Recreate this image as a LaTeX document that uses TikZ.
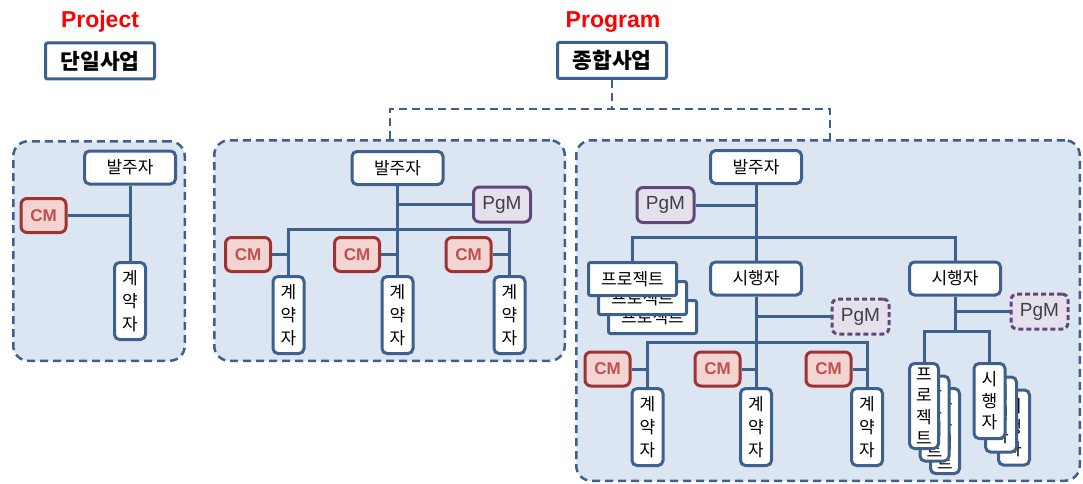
\documentclass[tikz,border=0pt]{standalone}
\usepackage{fontspec}
\setmainfont{Liberation Sans}
\newfontfamily\kr{Noto Sans CJK KR}
\usetikzlibrary{positioning}
\definecolor{lineblue}{RGB}{62,96,140}
\definecolor{groupfill}{RGB}{220,230,242}
\definecolor{cmborder}{RGB}{160,50,50}
\definecolor{cmfill}{RGB}{242,212,210}
\definecolor{cmtext}{RGB}{192,80,77}
\definecolor{pgmborder}{RGB}{96,73,122}
\definecolor{pgmfill}{RGB}{229,224,236}
\definecolor{pgmtext}{RGB}{64,64,64}
\begin{document}
\begin{tikzpicture}[x=1pt,y=-1pt]
\tikzstyle{heading} = [text=red, font=\bfseries\fontsize{23}{26}\selectfont]
\tikzstyle{headbox} = [draw=lineblue, line width=3pt, fill=white, rounded corners=2pt, inner sep=0pt, minimum width=109pt, minimum height=36pt, font=\kr\bfseries\fontsize{21.5}{24}\selectfont]
\tikzstyle{groupbox} = [draw=lineblue, fill=groupfill, line width=2.5pt, dash pattern=on 8pt off 5pt, rounded corners=15pt, inner sep=0pt]
\tikzstyle{rolebox} = [draw=lineblue, line width=3pt, fill=white, rounded corners=5pt, inner sep=0pt, minimum width=91pt, minimum height=33pt, font=\kr\fontsize{17}{20}\selectfont]
\tikzstyle{hproj} = [rolebox, rounded corners=2pt, minimum width=88pt]
\tikzstyle{vertbox} = [draw=lineblue, line width=3pt, fill=white, rounded corners=5pt, inner sep=0pt, minimum width=31pt, minimum height=77pt, align=center, font=\kr\fontsize{17}{23}\selectfont]
\tikzstyle{cmbox} = [draw=cmborder, fill=cmfill, text=cmtext, line width=3pt, rounded corners=6pt, inner sep=0pt, minimum width=45pt, minimum height=34pt, font=\bfseries\fontsize{17}{20}\selectfont]
\tikzstyle{pgmbox} = [draw=pgmborder, fill=pgmfill, text=pgmtext, line width=3pt, rounded corners=6pt, inner sep=0pt, minimum width=57pt, minimum height=35pt, font=\fontsize{19}{20}\selectfont]
\tikzstyle{pgmdash} = [pgmbox, dash pattern=on 5pt off 3pt]
\tikzstyle{link} = [draw=lineblue, line width=3pt]
\tikzstyle{dashlink} = [draw=lineblue, line width=2.5pt, dash pattern=on 8pt off 5pt]

\useasboundingbox (0,0) rectangle (1083,484);

%titles
\node (projlbl) [heading] at (100,22) {Project};
\node (single) [headbox] at (100,61) {단일사업};
\node (proglbl) [heading] at (613,22) {Program};
\node (multi) [headbox] at (612,60.5) {종합사업};

%groups
\node (grpA) [groupbox, minimum width=171.5pt, minimum height=219.5pt] at (99,251) {};
\node (grpB) [groupbox, minimum width=350.5pt, minimum height=220.5pt] at (389.5,250.5) {};
\node (grpC) [groupbox, minimum width=503.5pt, minimum height=340.5pt] at (828,310.5) {};
\coordinate (busL) at (390,109);
\coordinate (busR) at (830,109);

%single project
\node (ownA) [rolebox] at (130,167.5) {발주자};
\node (conA) [vertbox] at (130,301) {계\\약\\자};
\node (cmA) [cmbox] at (43.5,215.5) {CM};

%program, one owner
\node (ownB) [rolebox] at (397.5,168) {발주자};
\node (pgmB) [pgmbox] at (502,204.5) {PgM};
\node (conB2) [vertbox] at (397.5,315) {계\\약\\자};
\node (conB1) [vertbox, left of=conB2, node distance=109pt] {계\\약\\자};
\node (conB3) [vertbox, right of=conB2, node distance=112pt] {계\\약\\자};
\node (cmB1) [cmbox] at (248,254.5) {CM};
\node (cmB2) [cmbox] at (357,254.5) {CM};
\node (cmB3) [cmbox] at (468.5,254.5) {CM};
\coordinate (busB) at (397.5,229);

%program, several executors
\node (ownC) [rolebox] at (756,167) {발주자};
\node (pgmC) [pgmbox] at (665.5,205) {PgM};
\node (exeC1) [rolebox] at (756,278.5) {시행자};
\node (exeC2) [rolebox] at (955,278.5) {시행자};
\coordinate (prjC) at (632.5,279);
\node (prjC3) [hproj, xshift=20pt, yshift=-38pt] at (prjC) {프로젝트};
\node (prjC2) [hproj, xshift=10pt, yshift=-19pt] at (prjC) {프로젝트};
\node (prjC1) [hproj] at (prjC) {프로젝트};
\node (pgmC2) [pgmdash] at (860.5,316.5) {PgM};
\node (pgmC3) [pgmdash] at (1039.5,311.5) {PgM};
\node (conC2) [vertbox] at (756,427) {계\\약\\자};
\node (conC1) [vertbox, left of=conC2, node distance=108.5pt] {계\\약\\자};
\node (conC3) [vertbox, right of=conC2, node distance=111pt] {계\\약\\자};
\node (cmC1) [cmbox] at (607.5,369) {CM};
\node (cmC2) [cmbox] at (717.5,369) {CM};
\node (cmC3) [cmbox] at (828.5,369) {CM};
\coordinate (busC) at (756,237);
\coordinate (busC2) at (756,342);
\coordinate (busC3) at (955,331);
\coordinate (vpC) at (924,406);
\node (vpC3) [vertbox, minimum width=29pt, minimum height=85pt, font=\kr\fontsize{17}{21.5}\selectfont, xshift=21pt, yshift=-25pt] at (vpC) {프\\로\\젝\\트};
\node (vpC2) [vertbox, minimum width=29pt, minimum height=85pt, font=\kr\fontsize{17}{21.5}\selectfont, xshift=10.5pt, yshift=-12.5pt] at (vpC) {프\\로\\젝\\트};
\node (vpC1) [vertbox, minimum width=29pt, minimum height=85pt, font=\kr\fontsize{17}{21.5}\selectfont] at (vpC) {프\\로\\젝\\트};
\coordinate (vsC) at (989.5,401);
\node (vsC3) [vertbox, minimum height=75pt, font=\kr\fontsize{17}{21.5}\selectfont, xshift=24.5pt, yshift=-26.5pt] at (vsC) {시\\행\\자};
\node (vsC2) [vertbox, minimum height=75pt, font=\kr\fontsize{17}{21.5}\selectfont, xshift=11.5pt, yshift=-13.5pt] at (vsC) {시\\행\\자};
\node (vsC1) [vertbox, minimum height=75pt, font=\kr\fontsize{17}{21.5}\selectfont] at (vsC) {시\\행\\자};

%lines
\draw [dashlink] (multi) -- (multi |- busL);
\draw [dashlink] (grpB.north -| busL) |- (busR) -- (grpC.north -| busR);

\draw [link] (ownA) -- (conA);
\draw [link] (cmA) -- (cmA -| conA);

\draw [link] (ownB) -- (conB2);
\draw [link] (pgmB) -- (pgmB -| ownB);
\draw [link] (conB1) |- (busB) -| (conB3);
\draw [link] (cmB1) -- (cmB1 -| conB1);
\draw [link] (cmB2) -- (cmB2 -| conB2);
\draw [link] (cmB3) -- (cmB3 -| conB3);

\draw [link] (ownC) -- (exeC1);
\draw [link] (pgmC) -- (pgmC -| ownC);
\draw [link] (prjC1) |- (busC) -| (exeC2);
\draw [link] (exeC1) -- (conC2);
\draw [link] (pgmC2) -- (pgmC2 -| exeC1);
\draw [link] (conC1) |- (busC2) -| (conC3);
\draw [link] (cmC1) -- (cmC1 -| conC1);
\draw [link] (cmC2) -- (cmC2 -| conC2);
\draw [link] (cmC3) -- (cmC3 -| conC3);
\draw [link] (exeC2) -- (busC3);
\draw [link] (vpC1) |- (busC3) -| (vsC1);
\draw [link] (pgmC3) -- (pgmC3 -| exeC2);

\end{tikzpicture}
\end{document}
